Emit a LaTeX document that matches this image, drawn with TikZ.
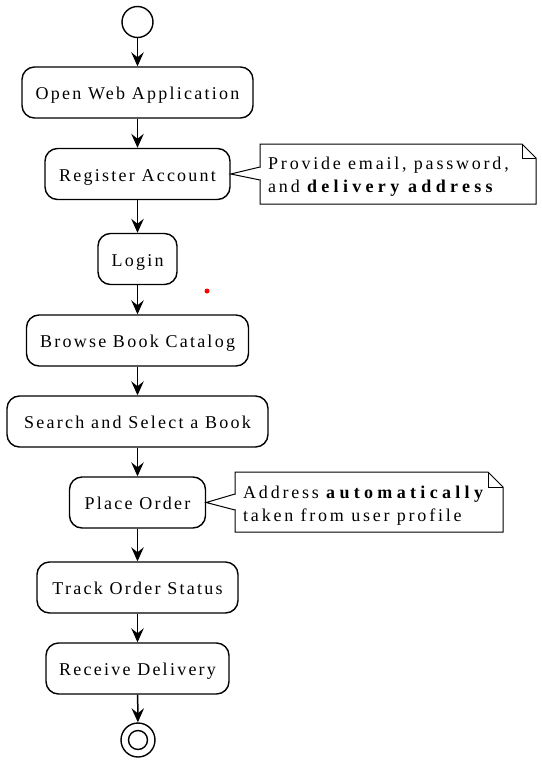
\documentclass[tikz,border=0pt]{standalone}
\usepackage{fontspec}
\setmainfont{Liberation Serif}[LetterSpace=12.5]
\newfontfamily\notefont{Liberation Serif}[LetterSpace=15.5]
\newfontfamily\notebold{Liberation Serif Bold}[LetterSpace=24]
\usetikzlibrary{arrows.meta,calc}
\tikzset{
  act/.style={draw, line width=1.4pt, rounded corners=12.5pt, fill=white,
    minimum height=51pt, inner sep=0pt, text height=16pt, text depth=2pt,
    font=\fontsize{18}{20}\selectfont},
  flow/.style={line width=1.5pt, -{Stealth[length=14pt,width=12.5pt,inset=5pt]}},
  notetext/.style={inner xsep=8pt, inner ysep=0pt, align=left,
    font=\notefont\fontsize{18}{23}\selectfont, anchor=west},
  noteline/.style={draw, line width=1pt, fill=white, line join=miter},
}
\begin{document}
\begin{tikzpicture}[x=1pt,y=-1pt]
\useasboundingbox (0,0) rectangle (541,760);
% start
\node (start) [circle, draw, line width=1.4pt, fill=white, minimum size=31pt, inner sep=0pt] at (137.5,22) {};
% activities
\node (open)    [act, minimum width=231pt] at (137.5,92.5) {Open Web Application};
\node (reg)     [act, minimum width=185pt] at (137.5,174) {Register Account};
\node (login)   [act, minimum width=79pt]  at (137.5,259) {Login};
\node (browse)  [act, minimum width=222pt] at (137.5,340.5) {Browse Book Catalog};
\node (search)  [act, minimum width=261pt] at (137.5,421.5) {Search and Select a Book};
\node (place)   [act, minimum width=136pt] at (137.5,502.5) {Place Order};
\node (track)   [act, minimum width=201pt] at (137.5,587.5) {Track Order Status};
\node (receive) [act, minimum width=183pt] at (137.5,668.5) {Receive Delivery};
% end
\node (end) [circle, draw, line width=1.4pt, fill=white, minimum size=34pt, inner sep=0pt] at (138,740) {};
\node (endin) [circle, draw, line width=1.4pt, minimum size=19pt, inner sep=0pt] at (end.center) {};
% flows
\draw[flow] (start) -- (open);
\draw[flow] (open) -- (reg);
\draw[flow] (reg) -- (login);
\draw[flow] (login) -- (browse);
\draw[flow] (browse) -- (search);
\draw[flow] (search) -- (place);
\draw[flow] (place) -- (track);
\draw[flow] (track) -- (receive);
\draw[flow] (receive) -- (end);
% note 1
\draw[noteline] (260,144) -- (522,144) -- (536,158) -- (536,204) -- (260,204) -- cycle;
\draw[line width=1pt] (522,144) -- (522,158) -- (536,158);
\draw[noteline] (260,167) -- (reg.east) -- (260,180);
\draw[white, line width=1.2pt] (260,167.6) -- (260,179.4);
\node (note1) [notetext] at (260,177) {Provide email, password,\\and {\notebold delivery address}};
% note 2
\draw[noteline] (235,472) -- (488,472) -- (503,487) -- (503,532) -- (235,532) -- cycle;
\draw[line width=1pt] (488,472) -- (488,487) -- (503,487);
\draw[noteline] (235,494) -- (place.east) -- (235,510);
\draw[white, line width=1.2pt] (235,494.6) -- (235,509.4);
\node (note2) [notetext] at (235,506) {Address {\notebold automatically}\\taken from user profile};
% red dot
\fill[red] (207,291) circle (2.5);
\end{tikzpicture}
\end{document}
